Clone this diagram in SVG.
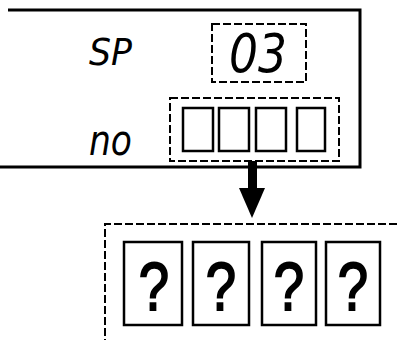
<svg xmlns="http://www.w3.org/2000/svg" width="397" height="340" viewBox="0 0 397 340">
<style>
.seg{font-family:"DejaVu Sans","Liberation Sans",sans-serif;font-style:italic;fill:#000}
.dash{fill:none;stroke:#000;stroke-width:2;stroke-dasharray:8 3}
.box{fill:#fff;stroke:#000;stroke-width:2.5}
.q{font-family:"Liberation Sans",Arial,sans-serif;font-size:68px;fill:#000;text-anchor:middle;stroke:#000;stroke-width:2}
.frame{fill:none;stroke:#000;stroke-width:3}
</style>
<rect width="397" height="340" fill="#fff"/>
<g id="panel">
<polyline class="frame" points="8,10 360,10 360,167 0,167"/>
</g>
<g id="sp-label"><text class="seg" x="89" y="65" font-size="37" textLength="43" lengthAdjust="spacingAndGlyphs">SP</text></g>
<g id="sp-value">
<rect class="dash" x="212" y="24" width="94" height="58"/>
<text class="seg" x="229" y="72" font-size="54" textLength="58" lengthAdjust="spacingAndGlyphs">03</text>
</g>
<g id="no-label"><text class="seg" x="89" y="155" font-size="42" textLength="43" lengthAdjust="spacingAndGlyphs">no</text></g>
<g id="no-value">
<rect class="dash" x="170" y="98" width="169" height="63"/>
<rect class="box" x="183" y="108" width="30" height="43"/>
<rect class="box" x="219" y="108" width="30" height="43"/>
<rect class="box" x="256" y="108" width="30" height="43"/>
<rect class="box" x="297" y="108" width="28" height="43"/>
</g>
<g id="connectors">
<rect x="248" y="161" width="9" height="28" fill="#000"/>
<polygon points="239,188 265,188 252,218" fill="#000"/>
</g>
<g id="result">
<polyline class="dash" points="397,224 105,224 105,340"/>
<rect class="box" x="124" y="242" width="58" height="83"/>
<rect class="box" x="193" y="242" width="56" height="83"/>
<rect class="box" x="262" y="242" width="54" height="83"/>
<rect class="box" x="326" y="242" width="54" height="83"/>
<text class="q" transform="translate(154,310) scale(0.8,1)">?</text>
<text class="q" transform="translate(221,310) scale(0.8,1)">?</text>
<text class="q" transform="translate(289,310) scale(0.8,1)">?</text>
<text class="q" transform="translate(353,310) scale(0.8,1)">?</text>
</g>
</svg>
